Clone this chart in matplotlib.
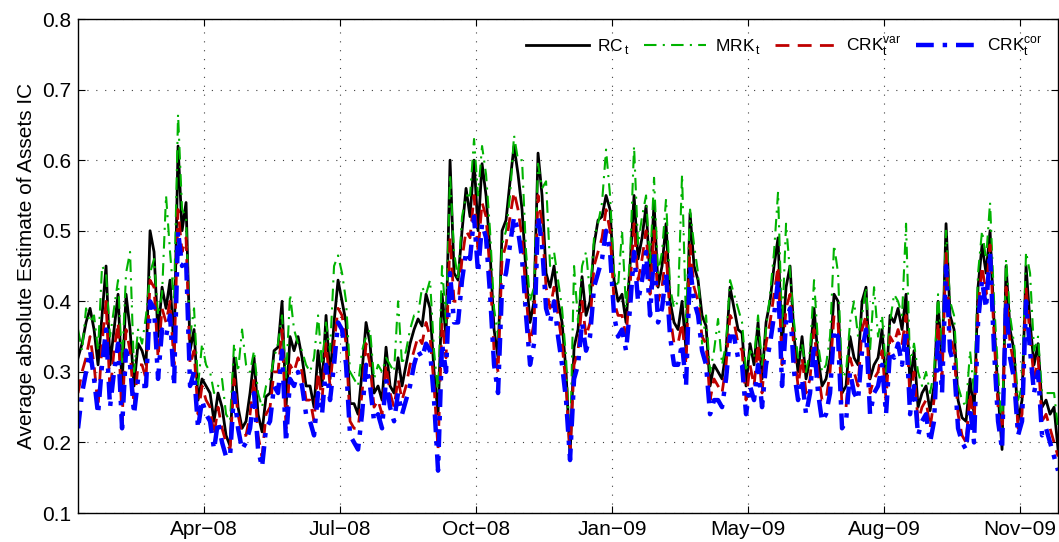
import matplotlib
matplotlib.use("Agg")
import matplotlib.pyplot as plt
import numpy as np

plt.rcParams['font.family'] = ['Liberation Sans', 'DejaVu Sans']
plt.rcParams['mathtext.fontset'] = 'custom'
plt.rcParams['mathtext.rm'] = 'Liberation Sans'

# average absolute IC estimates, one value per step
rc = [0.32, 0.34, 0.37, 0.39, 0.36, 0.31, 0.38, 0.45, 0.31, 0.36,
      0.41, 0.28, 0.41, 0.36, 0.28, 0.34, 0.33, 0.31, 0.50, 0.47,
      0.35, 0.42, 0.39, 0.43, 0.33, 0.62, 0.50, 0.54, 0.33, 0.36,
      0.26, 0.29, 0.28, 0.27, 0.23, 0.27, 0.25, 0.21, 0.195, 0.32,
      0.25, 0.22, 0.23, 0.27, 0.32, 0.24, 0.215, 0.265, 0.27, 0.33,
      0.335, 0.40, 0.25, 0.35, 0.33, 0.35, 0.32, 0.28, 0.28, 0.25,
      0.33, 0.28, 0.38, 0.29, 0.37, 0.43, 0.40, 0.37, 0.255, 0.255,
      0.24, 0.30, 0.37, 0.34, 0.27, 0.28, 0.26, 0.335, 0.28, 0.27,
      0.32, 0.28, 0.31, 0.34, 0.36, 0.375, 0.365, 0.41, 0.39, 0.30,
      0.24, 0.41, 0.35, 0.60, 0.44, 0.43, 0.50, 0.56, 0.52, 0.60,
      0.50, 0.595, 0.55, 0.47, 0.36, 0.32, 0.50, 0.515, 0.57, 0.62,
      0.58, 0.53, 0.44, 0.37, 0.40, 0.61, 0.55, 0.44, 0.42, 0.45,
      0.40, 0.37, 0.30, 0.18, 0.335, 0.36, 0.435, 0.38, 0.40, 0.48,
      0.515, 0.52, 0.55, 0.53, 0.43, 0.40, 0.41, 0.37, 0.45, 0.55,
      0.46, 0.49, 0.535, 0.43, 0.54, 0.42, 0.45, 0.51, 0.40, 0.37,
      0.36, 0.40, 0.33, 0.525, 0.45, 0.43, 0.38, 0.365, 0.28, 0.31,
      0.30, 0.29, 0.33, 0.42, 0.39, 0.36, 0.355, 0.28, 0.34, 0.31,
      0.37, 0.29, 0.37, 0.40, 0.45, 0.49, 0.33, 0.42, 0.45, 0.35,
      0.30, 0.35, 0.29, 0.32, 0.39, 0.32, 0.28, 0.29, 0.32, 0.41,
      0.40, 0.27, 0.28, 0.35, 0.32, 0.31, 0.40, 0.42, 0.29, 0.31,
      0.32, 0.36, 0.28, 0.38, 0.37, 0.39, 0.36, 0.41, 0.28, 0.33,
      0.25, 0.27, 0.28, 0.245, 0.28, 0.40, 0.31, 0.51, 0.38, 0.36,
      0.26, 0.235, 0.23, 0.29, 0.24, 0.42, 0.48, 0.44, 0.50, 0.37,
      0.27, 0.19, 0.45, 0.36, 0.33, 0.23, 0.26, 0.45, 0.37, 0.31,
      0.34, 0.25, 0.26, 0.24, 0.25, 0.19]

mrk = [0.36, 0.33, 0.39, 0.37, 0.38, 0.33, 0.45, 0.44, 0.35, 0.39,
       0.43, 0.31, 0.44, 0.47, 0.30, 0.36, 0.34, 0.38, 0.44, 0.46,
       0.38, 0.41, 0.55, 0.47, 0.40, 0.665, 0.53, 0.52, 0.35, 0.39,
       0.28, 0.34, 0.31, 0.30, 0.27, 0.28, 0.29, 0.24, 0.23, 0.34,
       0.30, 0.36, 0.31, 0.30, 0.33, 0.27, 0.25, 0.28, 0.29, 0.32,
       0.34, 0.38, 0.29, 0.41, 0.36, 0.34, 0.33, 0.31, 0.30, 0.32,
       0.38, 0.31, 0.37, 0.33, 0.45, 0.465, 0.44, 0.40, 0.30, 0.29,
       0.28, 0.33, 0.35, 0.36, 0.29, 0.31, 0.30, 0.32, 0.31, 0.30,
       0.40, 0.31, 0.33, 0.36, 0.38, 0.38, 0.42, 0.41, 0.43, 0.33,
       0.27, 0.45, 0.37, 0.58, 0.47, 0.43, 0.52, 0.55, 0.55, 0.63,
       0.55, 0.62, 0.58, 0.50, 0.39, 0.35, 0.48, 0.50, 0.55, 0.635,
       0.60, 0.60, 0.47, 0.40, 0.42, 0.595, 0.56, 0.57, 0.45, 0.47,
       0.43, 0.39, 0.32, 0.19, 0.45, 0.37, 0.45, 0.47, 0.41, 0.49,
       0.51, 0.54, 0.615, 0.55, 0.44, 0.42, 0.50, 0.39, 0.46, 0.62,
       0.48, 0.52, 0.55, 0.45, 0.575, 0.44, 0.47, 0.545, 0.42, 0.39,
       0.40, 0.58, 0.37, 0.53, 0.48, 0.44, 0.34, 0.38, 0.30, 0.33,
       0.375, 0.31, 0.34, 0.43, 0.41, 0.39, 0.37, 0.30, 0.33, 0.32,
       0.38, 0.31, 0.36, 0.41, 0.47, 0.555, 0.36, 0.51, 0.44, 0.37,
       0.32, 0.34, 0.30, 0.33, 0.43, 0.34, 0.30, 0.31, 0.35, 0.48,
       0.44, 0.29, 0.30, 0.37, 0.40, 0.35, 0.38, 0.42, 0.33, 0.42,
       0.35, 0.38, 0.30, 0.37, 0.41, 0.40, 0.38, 0.51, 0.31, 0.34,
       0.30, 0.28, 0.30, 0.27, 0.30, 0.41, 0.33, 0.50, 0.40, 0.38,
       0.28, 0.26, 0.25, 0.33, 0.27, 0.44, 0.50, 0.46, 0.54, 0.40,
       0.30, 0.21, 0.46, 0.38, 0.34, 0.26, 0.28, 0.47, 0.44, 0.33,
       0.35, 0.27, 0.27, 0.27, 0.27, 0.22]

crk_var = [0.27, 0.30, 0.32, 0.35, 0.31, 0.25, 0.34, 0.40, 0.27, 0.33,
           0.37, 0.23, 0.36, 0.33, 0.25, 0.31, 0.31, 0.29, 0.43, 0.42,
           0.32, 0.39, 0.37, 0.40, 0.31, 0.53, 0.47, 0.49, 0.31, 0.33,
           0.24, 0.28, 0.26, 0.25, 0.21, 0.25, 0.22, 0.20, 0.19, 0.29,
           0.24, 0.21, 0.21, 0.24, 0.29, 0.21, 0.18, 0.24, 0.25, 0.30,
           0.30, 0.36, 0.22, 0.31, 0.30, 0.32, 0.30, 0.26, 0.26, 0.23,
           0.30, 0.26, 0.34, 0.28, 0.34, 0.39, 0.38, 0.34, 0.23, 0.22,
           0.22, 0.27, 0.34, 0.31, 0.25, 0.26, 0.24, 0.31, 0.27, 0.25,
           0.29, 0.26, 0.28, 0.31, 0.33, 0.35, 0.34, 0.37, 0.35, 0.28,
           0.19, 0.37, 0.32, 0.49, 0.40, 0.40, 0.46, 0.50, 0.49, 0.55,
           0.47, 0.54, 0.52, 0.44, 0.33, 0.30, 0.46, 0.48, 0.52, 0.555,
           0.53, 0.49, 0.41, 0.34, 0.37, 0.55, 0.51, 0.42, 0.39, 0.42,
           0.38, 0.34, 0.28, 0.18, 0.31, 0.33, 0.40, 0.35, 0.37, 0.45,
           0.47, 0.49, 0.53, 0.50, 0.40, 0.38, 0.38, 0.35, 0.42, 0.51,
           0.43, 0.46, 0.50, 0.41, 0.50, 0.40, 0.42, 0.47, 0.38, 0.34,
           0.34, 0.37, 0.31, 0.48, 0.42, 0.40, 0.35, 0.34, 0.26, 0.29,
           0.28, 0.27, 0.31, 0.38, 0.37, 0.34, 0.33, 0.26, 0.31, 0.28,
           0.34, 0.27, 0.34, 0.37, 0.41, 0.45, 0.31, 0.39, 0.41, 0.33,
           0.28, 0.32, 0.27, 0.29, 0.36, 0.30, 0.26, 0.26, 0.30, 0.38,
           0.37, 0.25, 0.25, 0.32, 0.30, 0.28, 0.36, 0.38, 0.27, 0.29,
           0.30, 0.33, 0.26, 0.35, 0.34, 0.36, 0.34, 0.38, 0.26, 0.30,
           0.23, 0.25, 0.26, 0.22, 0.26, 0.37, 0.29, 0.47, 0.35, 0.33,
           0.24, 0.21, 0.20, 0.27, 0.22, 0.39, 0.45, 0.41, 0.48, 0.35,
           0.25, 0.20, 0.42, 0.34, 0.31, 0.22, 0.24, 0.42, 0.35, 0.29,
           0.32, 0.23, 0.24, 0.22, 0.20, 0.18]

crk_cor = [0.22, 0.27, 0.30, 0.33, 0.29, 0.24, 0.31, 0.36, 0.25, 0.30,
           0.34, 0.22, 0.33, 0.31, 0.24, 0.29, 0.28, 0.28, 0.40, 0.39,
           0.29, 0.36, 0.35, 0.38, 0.28, 0.50, 0.45, 0.46, 0.28, 0.30,
           0.22, 0.26, 0.24, 0.23, 0.19, 0.23, 0.20, 0.18, 0.18, 0.27,
           0.22, 0.19, 0.20, 0.22, 0.27, 0.19, 0.165, 0.22, 0.23, 0.28,
           0.27, 0.33, 0.20, 0.29, 0.28, 0.30, 0.28, 0.24, 0.23, 0.21,
           0.27, 0.24, 0.31, 0.26, 0.31, 0.37, 0.36, 0.31, 0.21, 0.20,
           0.19, 0.24, 0.31, 0.28, 0.23, 0.24, 0.22, 0.29, 0.25, 0.23,
           0.27, 0.24, 0.26, 0.28, 0.31, 0.33, 0.32, 0.34, 0.33, 0.26,
           0.16, 0.34, 0.30, 0.44, 0.37, 0.37, 0.43, 0.47, 0.46, 0.52,
           0.44, 0.51, 0.49, 0.41, 0.31, 0.27, 0.42, 0.44, 0.48, 0.52,
           0.50, 0.46, 0.38, 0.31, 0.34, 0.52, 0.48, 0.39, 0.37, 0.40,
           0.35, 0.31, 0.26, 0.175, 0.29, 0.31, 0.37, 0.33, 0.35, 0.42,
           0.44, 0.46, 0.50, 0.47, 0.38, 0.35, 0.36, 0.33, 0.39, 0.47,
           0.40, 0.43, 0.47, 0.38, 0.47, 0.37, 0.39, 0.44, 0.35, 0.31,
           0.31, 0.34, 0.28, 0.45, 0.40, 0.38, 0.33, 0.31, 0.24, 0.26,
           0.26, 0.25, 0.29, 0.35, 0.35, 0.32, 0.31, 0.24, 0.28, 0.26,
           0.31, 0.25, 0.31, 0.34, 0.38, 0.43, 0.28, 0.37, 0.39, 0.30,
           0.26, 0.29, 0.24, 0.27, 0.34, 0.27, 0.23, 0.24, 0.27, 0.36,
           0.35, 0.22, 0.23, 0.30, 0.27, 0.26, 0.33, 0.36, 0.24, 0.27,
           0.28, 0.31, 0.24, 0.33, 0.32, 0.34, 0.31, 0.36, 0.24, 0.28,
           0.21, 0.23, 0.24, 0.20, 0.23, 0.35, 0.27, 0.45, 0.33, 0.31,
           0.22, 0.20, 0.19, 0.25, 0.20, 0.37, 0.43, 0.39, 0.47, 0.33,
           0.23, 0.19, 0.40, 0.32, 0.29, 0.21, 0.23, 0.40, 0.33, 0.27,
           0.30, 0.21, 0.22, 0.20, 0.18, 0.16]

tick_pos = [31.5, 65.5, 99.5, 133.5, 167.5, 201.5, 235.5]
tick_labels = ['Apr\u221208', 'Jul\u221208', 'Oct\u221208', 'Jan\u221209',
               'May\u221209', 'Aug\u221209', 'Nov\u221209']

t = np.arange(len(rc))

fig = plt.figure(figsize=(10.59, 5.42), dpi=100)
ax = fig.add_axes([0.0737, 0.0535, 0.9254, 0.9114])

ax.plot(t, rc, color='black', lw=2.0, label=r'RC$_{\,\mathrm{t}}$')
ax.plot(t, mrk, color=(0, 0.7, 0), lw=1.5, linestyle=(0, (6, 3, 1, 3)),
        label=r'MRK$_{\,\mathrm{t}}$')
ax.plot(t, crk_var, color=(0.75, 0, 0), lw=2.0, linestyle=(0, (5, 3)),
        label=r'CRK$_{\mathrm{t}}^{\mathrm{var}}$')
ax.plot(t, crk_cor, color=(0, 0, 1), lw=3.2, linestyle=(0, (4, 2, 1, 2)),
        label=r'CRK$_{\mathrm{t}}^{\mathrm{cor}}$')

ax.set_xlim(0, len(rc) - 1)
ax.set_ylim(0.1, 0.8)
ax.set_yticks(np.arange(0.1, 0.81, 0.1))
ax.set_yticklabels(['%.1f' % v for v in np.arange(0.1, 0.81, 0.1)])
ax.set_xticks(tick_pos)
ax.set_xticklabels(tick_labels)
ax.tick_params(direction='in', top=True, right=True, length=5, labelsize=15,
               width=0.8, pad=5)
ax.grid(True, color='0.25', linestyle=(0, (1, 7)), lw=0.8)
for s in ax.spines.values():
    s.set_linewidth(1.0)

ax.set_ylabel('Average absolute Estimate of Assets IC', fontsize=15, labelpad=4)

ax.legend(loc='upper right', ncol=4, frameon=False, fontsize=12.5,
          handlelength=3.6, columnspacing=0.8, handletextpad=0.5,
          bbox_to_anchor=(1.0, 1.0))

fig.savefig('out.png', dpi=100)
